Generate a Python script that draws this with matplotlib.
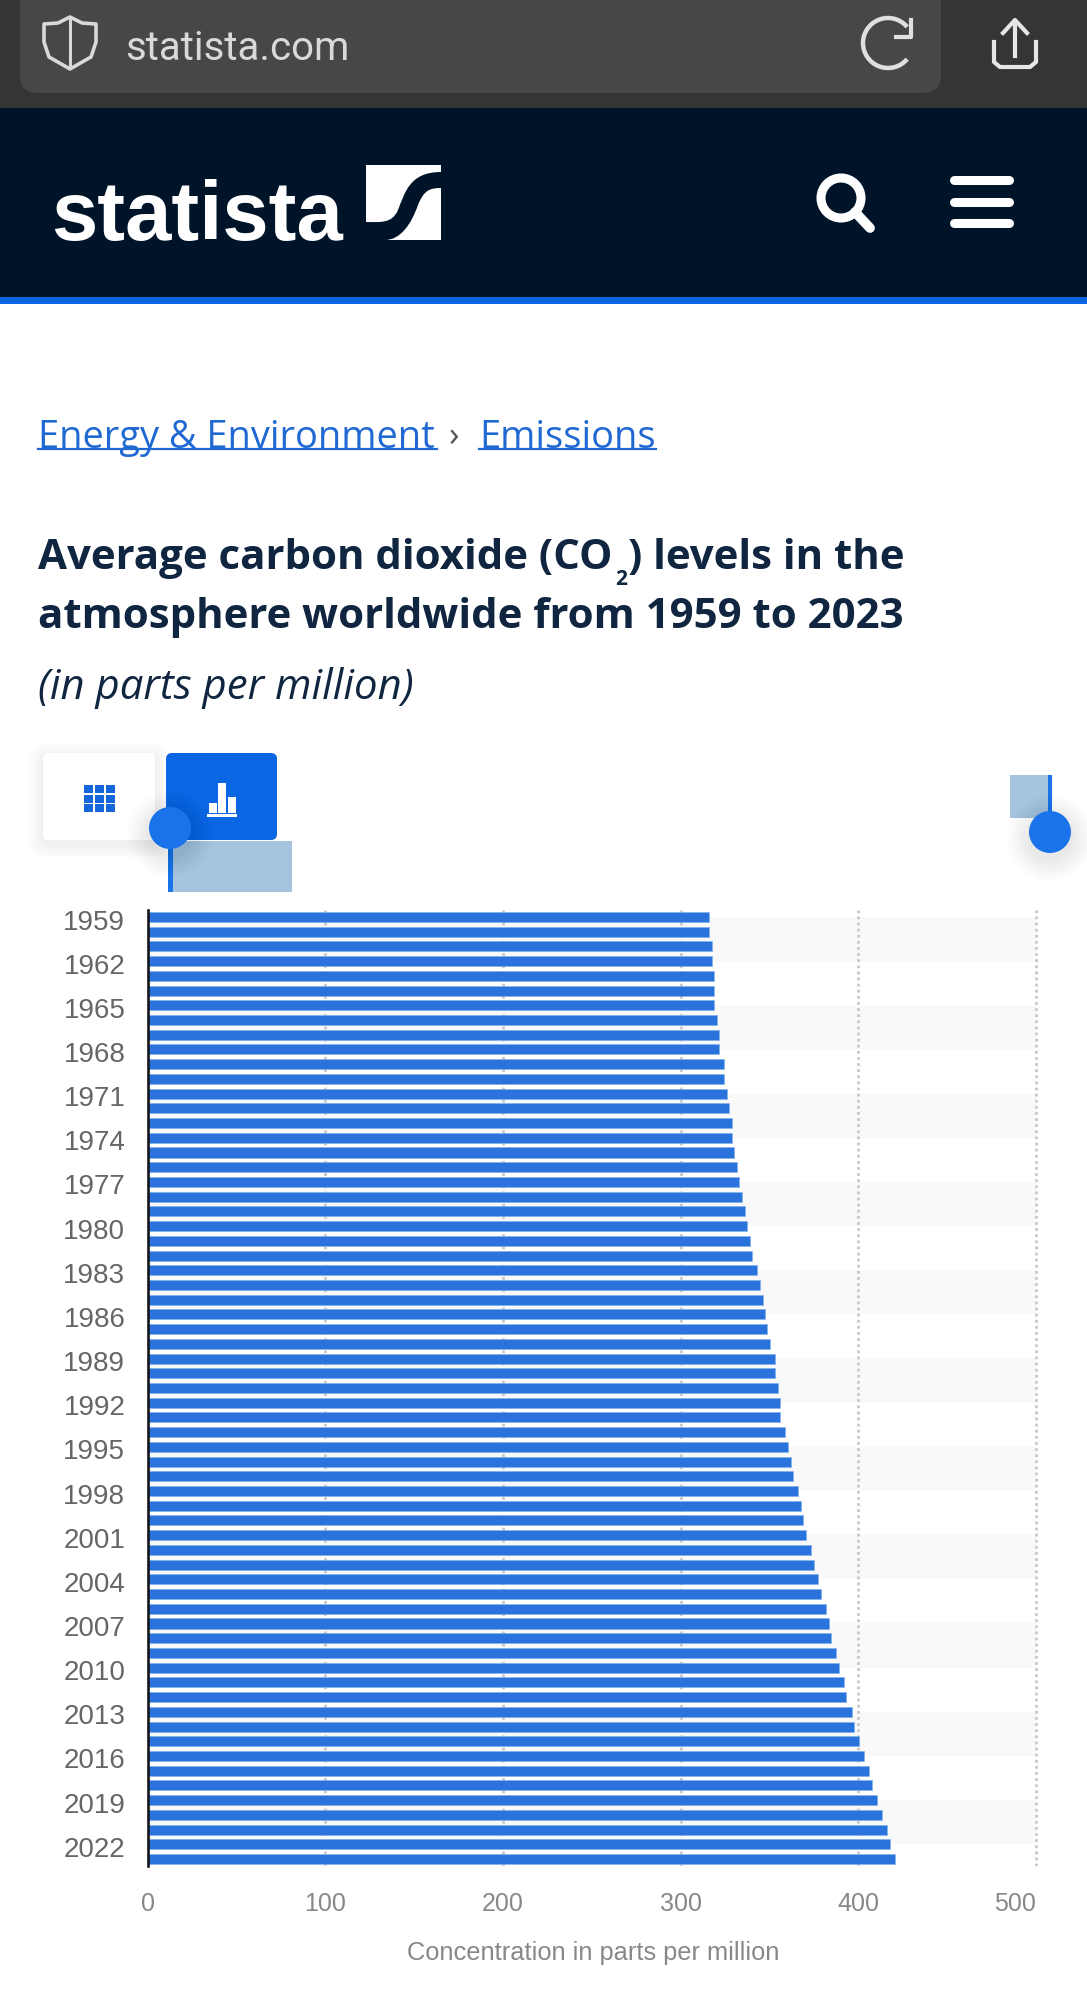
import matplotlib
matplotlib.use('Agg')
import matplotlib.pyplot as plt
from matplotlib.patches import Rectangle, FancyBboxPatch, Circle, Arc, PathPatch, Polygon
from matplotlib.path import Path
from matplotlib.transforms import ScaledTranslation

# Data
years = list(range(1959, 2024))
co2_ppm = [
  316.0, 316.0, 317.5, 317.5, 318.9, 318.9, 318.9, 320.4, 321.7, 321.7,
  324.4, 324.4, 325.9, 327.4, 328.9, 328.9, 330.3, 331.6, 333.1, 334.3,
  336.0, 337.5, 339.0, 340.2, 343.2, 344.7, 346.1, 347.4, 348.9, 350.1,
  353.3, 353.3, 354.8, 356.0, 356.0, 359.0, 360.5, 361.9, 363.4, 366.2,
  367.6, 368.9, 370.4, 373.3, 374.8, 377.5, 379.0, 381.8, 383.4, 384.7,
  387.7, 389.1, 392.1, 393.3, 396.3, 397.8, 400.5, 403.3, 406.2, 407.7,
  410.6, 413.4, 416.3, 417.8, 420.5,
]
year_ticks = years[::3]
value_ticks = [0, 100, 200, 300, 400, 500]
axis_label = "Concentration in parts per million"

W, H = 1087, 2000
BAR = '#2a72dc'
NAVY = '#0f2540'
LINK = '#2069d3'
NAV_BG = '#001429'

fig = plt.figure(figsize=(W / 100, H / 100), dpi=100, facecolor='white')

# Page furniture in pixel coordinates
page = fig.add_axes([0, 0, 1, 1])
page.set_xlim(0, W)
page.set_ylim(H, 0)
page.axis('off')

def rrect(x0, y0, x1, y1, r, **kw):
  p = FancyBboxPatch((x0 + r, y0 + r), x1 - x0 - 2 * r, y1 - y0 - 2 * r,
                     boxstyle=f"round,pad={r},rounding_size={r}", linewidth=0, **kw)
  page.add_patch(p)
  return p

def shadow(x0, y0, x1, y1, r, reach=14, dy=4):
  for i in range(reach, 0, -2):
    rrect(x0 - i, y0 - i + dy, x1 + i, y1 + i + dy, r + i, facecolor='black', alpha=0.006)

def soft_circle(x, y, r, reach=22, dy=6):
  for i in range(reach, 0, -2):
    page.add_patch(Circle((x, y + dy), r + i, facecolor='black', alpha=0.008, linewidth=0))

# browser bar
page.add_patch(Rectangle((0, 0), W, 108, facecolor='#353535', linewidth=0))
rrect(20, -30, 941, 93, 18, facecolor='#474747')
page.text(125, 49, "statista.com", family='Roboto', fontsize=29, color='#d9d9d9', va='center')
shield = [(70, 17), (58, 23), (44, 24), (44, 42), (49, 57), (70, 69),
          (91, 57), (96, 42), (96, 24), (82, 23)]
page.add_patch(Polygon(shield, closed=True, fill=False, edgecolor='#d9d9d9', linewidth=2.6, joinstyle='round'))
page.plot([70, 70], [18, 68], color='#d9d9d9', lw=2.2)
page.add_patch(Arc((888, 43), 50, 50, theta1=40, theta2=320, color='#e0e0e0', lw=3.2))
page.plot([911, 911, 896], [20, 37, 37], color='#e0e0e0', lw=3)
page.plot([1015, 1015], [24, 56], color='#e6e6e6', lw=3)
page.plot([1003, 1015, 1027], [33, 20, 33], color='#e6e6e6', lw=3)
page.plot([994, 994, 1000, 1030, 1036, 1036], [42, 62, 67, 67, 62, 42], color='#e6e6e6', lw=3)

# statista nav
page.add_patch(Rectangle((0, 108), W, 189, facecolor=NAV_BG, linewidth=0))
page.add_patch(Rectangle((0, 297), W, 7, facecolor='#0b66e4', linewidth=0))
page.text(51, 240, "statista", family='Liberation Sans', fontweight='bold',
          fontsize=60, color='white', va='baseline')
page.add_patch(Rectangle((366, 165), 75, 75, facecolor='white', linewidth=0))
swoosh = Path([(441, 172), (410, 172), (405, 192), (398, 210), (392, 224), (380, 222), (366, 222),
               (366, 240), (385, 240), (400, 240), (411, 225), (418, 205), (424, 190), (430, 188), (441, 188), (441, 172)],
              [Path.MOVETO, Path.CURVE4, Path.CURVE4, Path.CURVE4, Path.CURVE4, Path.CURVE4, Path.CURVE4,
               Path.LINETO, Path.LINETO, Path.CURVE4, Path.CURVE4, Path.CURVE4, Path.CURVE4, Path.CURVE4, Path.CURVE4, Path.CLOSEPOLY])
page.add_patch(PathPatch(swoosh, facecolor=NAV_BG, linewidth=0))
page.add_patch(Circle((841, 198), 20, fill=False, edgecolor='white', linewidth=6.5))
page.plot([855, 870], [212, 228], color='white', lw=7, solid_capstyle='round')
for y in [180, 202, 223]:
  page.plot([954, 1009], [y, y], color='white', lw=6.5, solid_capstyle='round')

# breadcrumb
page.text(38, 438, "Energy & Environment", family='Open Sans', fontsize=27.4, color=LINK, va='center')
page.plot([38, 437], [449, 449], color=LINK, lw=1.6)
page.text(449, 437, "›", family='Open Sans', fontsize=25, color='#555555', va='center')
page.text(479, 438, "Emissions", family='Open Sans', fontsize=27.4, color=LINK, va='center')
page.plot([479, 656], [449, 449], color=LINK, lw=1.6)

# title
title_kw = dict(family='Open Sans', fontweight='bold', fontsize=30.25, color=NAVY, va='baseline')
page.text(38, 569, "Average carbon dioxide (CO", **title_kw)
page.text(615, 585, "2", family='Open Sans', fontweight='bold', fontsize=15, color=NAVY, va='baseline')
page.text(628, 569, ") levels in the", **title_kw)
page.text(38, 628, "atmosphere worldwide from 1959 to 2023", **title_kw)
page.text(38, 699, "(in parts per million)", family='Open Sans', style='italic', fontsize=30.2, color=NAVY, va='baseline')

# toggle buttons
shadow(43, 753, 155, 840, 5)
rrect(43, 753, 155, 840, 5, facecolor='white')
rrect(166, 753, 277, 840, 6, facecolor='#0b66e4')
for i in range(3):
  for j in range(3):
    page.add_patch(Rectangle((84 + i * 11, 785 + j * 9.5), 9, 8, facecolor='#1565dc', linewidth=0))
for x, y0 in [(209, 803), (218, 783), (228, 797)]:
  page.add_patch(Rectangle((x, y0), 8, 813 - y0, facecolor='white', linewidth=0))
page.add_patch(Rectangle((207, 814), 30, 3, facecolor='white', linewidth=0))

# the range handles
page.add_patch(Rectangle((172, 841), 120, 51, facecolor='#a6c3df', linewidth=0))
page.add_patch(Rectangle((168, 840), 5, 52, facecolor='#1a73e8', linewidth=0))
soft_circle(170, 828, 21)
page.add_patch(Circle((170, 828), 21, facecolor='#1a73e8', linewidth=0))
page.add_patch(Rectangle((1010, 775), 40, 43, facecolor='#a6c3df', linewidth=0))
page.add_patch(Rectangle((1048, 775), 4, 50, facecolor='#1a73e8', linewidth=0))
soft_circle(1050, 832, 21)
page.add_patch(Circle((1050, 832), 21, facecolor='#1a73e8', linewidth=0))

# Chart
left, right, top, bottom = 147.5, 1040, 910, 1866
ax = fig.add_axes([left / W, 1 - bottom / H, (right - left) / W, (bottom - top) / H], facecolor='none')
x_max = (right - left) / 1.777
ax.set_xlim(0, x_max)
ax.set_ylim(2023.476, 1958.524)

for start in year_ticks[::2]:
  ax.axhspan(start, start + 3, xmax=500 / x_max, facecolor='#f9f9fa', linewidth=0, zorder=0)

ax.barh(years, co2_ppm, height=0.68, color=BAR, edgecolor='#7fb0ec', linewidth=0.4, zorder=3)

ax.set_axisbelow(True)
ax.grid(axis='x', color='#c8c8c8', linestyle=(0, (1, 1.2)), linewidth=2)
ax.grid(axis='y', visible=False)

for side in ['top', 'right', 'bottom']:
  ax.spines[side].set_visible(False)
ax.spines['left'].set_linewidth(1.9)
ax.spines['left'].set_color('#15171c')
ax.spines['left'].set_zorder(5)

ax.set_yticks(year_ticks)
ax.set_yticklabels([str(y) for y in year_ticks], family='Liberation Sans', fontsize=20, color='#666666')
ax.set_xticks(value_ticks)
ax.set_xticklabels([str(v) for v in value_ticks], family='Liberation Sans', fontsize=18, color='#888888')
ax.tick_params(axis='y', length=0, pad=16)
ax.tick_params(axis='x', length=0, pad=19)
ax.get_xticklabels()[-1].set_ha('right')

# labels sit a touch under the bar centres in the original
nudge = ScaledTranslation(0, -2.5 / 100, fig.dpi_scale_trans)
for lab in ax.get_yticklabels():
  lab.set_transform(lab.get_transform() + nudge)

page.text(593, 1953, axis_label, family='Liberation Sans', fontsize=18.3, color='#888888', ha='center', va='center')

plt.savefig('out.png', dpi=100)
